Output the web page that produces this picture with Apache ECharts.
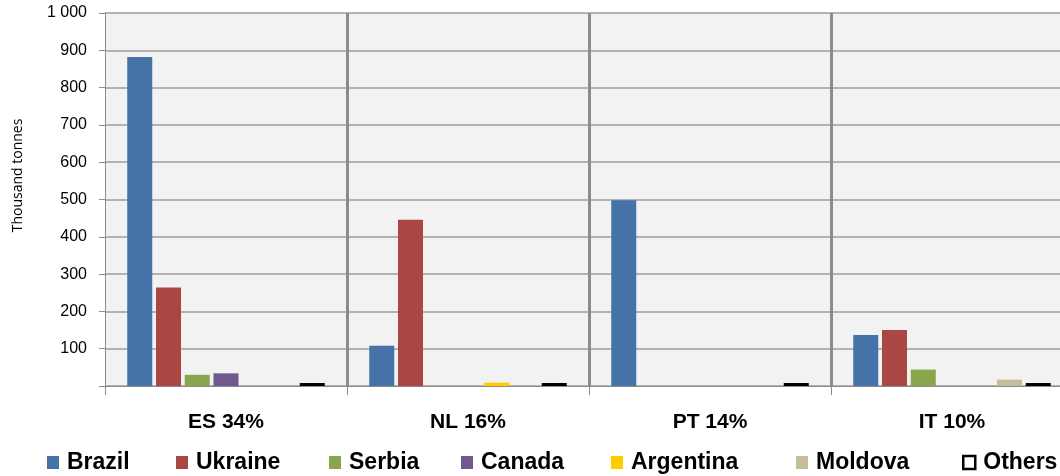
<!DOCTYPE html>
<html>
<head>
<meta charset="utf-8">
<script src="https://cdn.jsdelivr.net/npm/echarts@6/dist/echarts.min.js"></script>
<style>
html,body{margin:0;padding:0;background:#fff;}
#chart{width:1060px;height:476px;}
</style>
</head>
<body>
<div id="chart"></div>
<script>
var categories = ['ES 34%', 'NL 16%', 'PT 14%', 'IT 10%'];
var seriesNames = ['Brazil', 'Ukraine', 'Serbia', 'Canada', 'Argentina', 'Moldova', 'Others'];
var brazil    = [882, 108, 498, 137];
var ukraine   = [264, 446, null, 150];
var serbia    = [30, null, null, 44];
var canada    = [34, null, null, null];
var argentina = [null, 9, null, null];
var moldova   = [null, null, null, 17];
var others    = [8, 8, 8, 8];
var yTicks = [0, 100, 200, 300, 400, 500, 600, 700, 800, 900, 1000];

var seriesValues = [brazil, ukraine, serbia, canada, argentina, moldova, others];
var colors = ['#4572A7', '#AA4643', '#89A54E', '#71588F', '#FFCC00', '#C4BD97', '#ffffff'];
var legendLeft = [47, 176, 329, 461, 611, 796, 962];

var chart = echarts.init(document.getElementById('chart'));

var series = seriesNames.map(function (n, i) {
  var isOthers = n === 'Others';
  return {
    name: n,
    type: 'bar',
    barWidth: 25,
    barGap: '15%',
    data: seriesValues[i],
    itemStyle: isOthers ? {color: '#ffffff', borderColor: '#000000', borderWidth: 2.5}
                        : {color: colors[i]},
    emphasis: {disabled: true}
  };
});

var legends = seriesNames.map(function (n, i) {
  var l = {
    data: [n],
    left: legendLeft[i],
    top: 451,
    icon: 'rect',
    itemWidth: 12,
    itemHeight: 13,
    itemGap: 0,
    padding: 0,
    textStyle: {fontFamily: 'Liberation Sans', fontWeight: 'bold', fontSize: 23, color: '#000', padding: [0, 0, 0, 3]}
  };
  if (n === 'Others') {
    l.itemStyle = {color: '#ffffff', borderColor: '#000000', borderWidth: 2.5};
  }
  return l;
});

chart.setOption({
  animation: false,
  backgroundColor: '#ffffff',
  color: colors,
  legend: legends,
  grid: {left: 105, top: 13, right: -13, bottom: 90, show: true, backgroundColor: '#f2f2f2', borderWidth: 0,
         containLabel: false, outerBoundsMode: 'none'},
  xAxis: {
    type: 'category',
    data: categories,
    axisLine: {show: true, lineStyle: {color: '#8c8c8c', width: 1}},
    axisTick: {show: true, length: 9, lineStyle: {color: '#8c8c8c'}},
    axisLabel: {margin: 26, fontFamily: 'Liberation Sans', fontWeight: 'bold', fontSize: 21, color: '#000'},
    splitLine: {show: true, showMinLine: false, lineStyle: {color: '#8c8c8c', width: 3}}
  },
  yAxis: {
    type: 'value',
    min: yTicks[0],
    max: yTicks[yTicks.length - 1],
    interval: 100,
    name: 'Thousand tonnes',
    nameLocation: 'middle',
    nameRotate: 90,
    nameGap: 80,
    nameTextStyle: {fontFamily: 'Open Sans', fontSize: 14, color: '#000', padding: [0, 0, 0, 48]},
    axisLine: {show: true, lineStyle: {color: '#8c8c8c', width: 1}},
    axisTick: {show: true, length: 6, lineStyle: {color: '#8c8c8c'}},
    axisLabel: {
      margin: 18,
      fontFamily: 'Liberation Sans',
      fontSize: 16,
      color: '#000',
      formatter: function (v) {
        if (v === 0) return '';
        return v >= 1000 ? String(v).replace(/(\d)(\d{3})$/, '$1 $2') : String(v);
      }
    },
    splitLine: {show: true, lineStyle: {color: '#9c9c9c', width: 1.5}}
  },
  series: series
});
</script>
</body>
</html>
